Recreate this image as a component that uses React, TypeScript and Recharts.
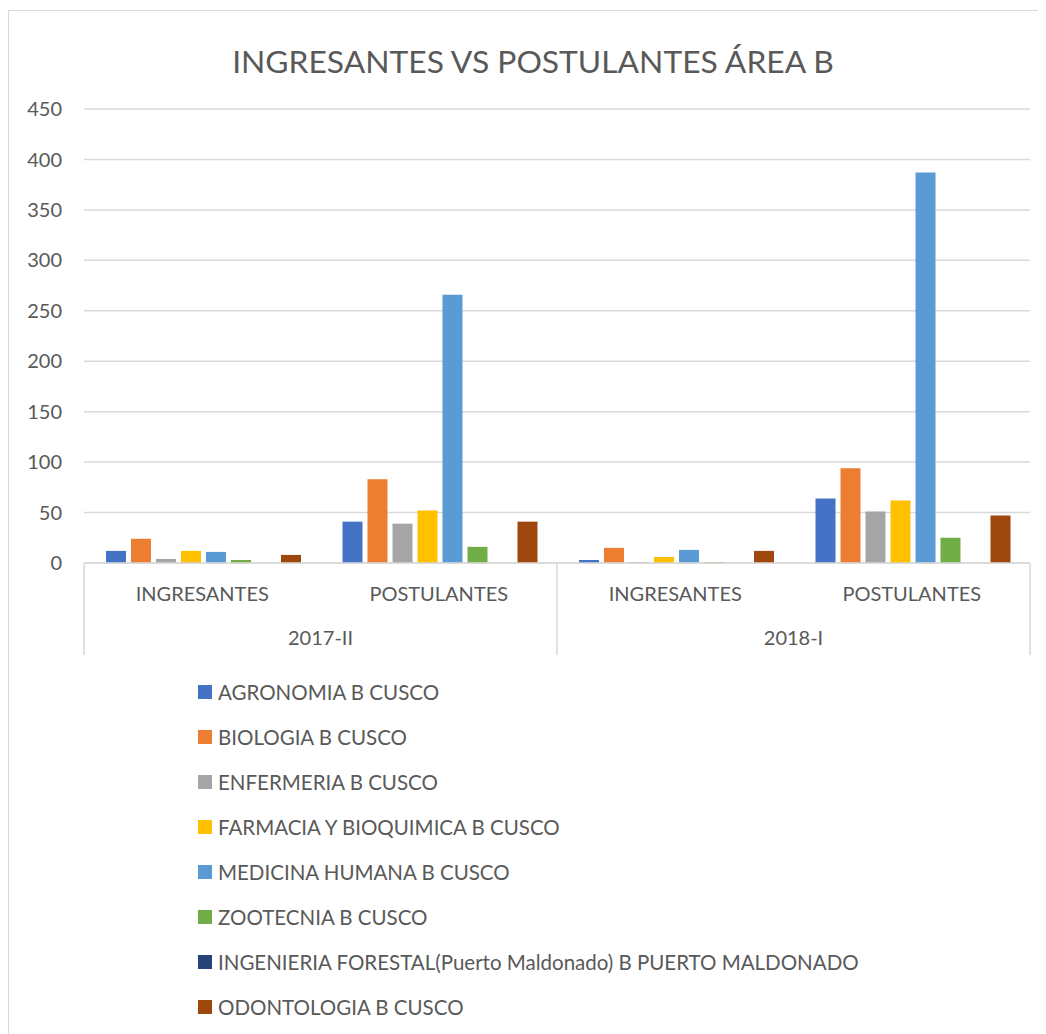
import React from "react";
import { BarChart, Bar, XAxis, YAxis, CartesianGrid, Legend } from "recharts";

const years = ["2017-II", "2017-II", "2018-I", "2018-I"];
const types = ["INGRESANTES", "POSTULANTES", "INGRESANTES", "POSTULANTES"];

const agronomia = [12, 41, 3, 64];
const biologia = [24, 83, 15, 94];
const enfermeria = [4, 39, 1, 51];
const farmacia = [12, 52, 6, 62];
const medicina = [11, 266, 13, 387];
const zootecnia = [3, 16, 1, 25];
const forestal = [0, 0, 0, 0];
const odontologia = [8, 41, 12, 47];

const yTicks = [0, 50, 100, 150, 200, 250, 300, 350, 400, 450];

const seriesNames = [
  "AGRONOMIA B CUSCO",
  "BIOLOGIA B CUSCO",
  "ENFERMERIA B CUSCO",
  "FARMACIA Y BIOQUIMICA B CUSCO",
  "MEDICINA HUMANA B CUSCO",
  "ZOOTECNIA B CUSCO",
  "INGENIERIA FORESTAL(Puerto Maldonado) B PUERTO MALDONADO",
  "ODONTOLOGIA B CUSCO",
];
const seriesValues = [agronomia, biologia, enfermeria, farmacia, medicina, zootecnia, forestal, odontologia];
const colors = ["#4472C4", "#ED7D31", "#A5A5A5", "#FFC000", "#5B9BD5", "#70AD47", "#264478", "#9E480E"];

const data = years.map((y, i) => {
  const row: Record<string, string | number> = { key: y + "|" + types[i], year: y, type: types[i] };
  seriesValues.forEach((vals, s) => {
    row["s" + s] = vals[i];
  });
  return row;
});

const FONT = "Lato, 'Open Sans', sans-serif";
const TEXT = "#595959";
const GRID = "#d9d9d9";

const CHART_W = 1030;
const CHART_H = 1020;
const MARGIN = { top: 98, right: 9, left: 0, bottom: 376 };
const Y_W = 75;
const PLOT_W = CHART_W - MARGIN.left - MARGIN.right - Y_W;
const AX1_H = 44;
const AX2_H = 48;

const TypeTick = (props: any) => {
  const { x, y, index } = props;
  return (
    <text x={x} y={y + 30} textAnchor="middle" dominantBaseline="central" fill={TEXT} fontSize={20} fontFamily={FONT}>
      {types[index]}
    </text>
  );
};

const YearTick = (props: any) => {
  const { x, y, payload, index } = props;
  const half = PLOT_W / 4;
  return (
    <g>
      <text x={x} y={y + 30} textAnchor="middle" dominantBaseline="central" fill={TEXT} fontSize={20} fontFamily={FONT}>
        {payload.value}
      </text>
      <line x1={x - half} x2={x - half} y1={y - AX1_H} y2={y + AX2_H} stroke={GRID} strokeWidth={1.5} />
      {index === 1 && (
        <line x1={x + half} x2={x + half} y1={y - AX1_H} y2={y + AX2_H} stroke={GRID} strokeWidth={1.5} />
      )}
    </g>
  );
};

const LegendContent = () => (
  <div style={{ fontFamily: FONT, color: TEXT, fontSize: 20.5 }}>
    {seriesNames.map((n, i) => (
      <div key={n} style={{ height: 45, display: "flex", alignItems: "center", whiteSpace: "nowrap" }}>
        <span style={{ display: "inline-block", width: 14, height: 14, background: colors[i], marginRight: 6 }} />
        <span>{n}</span>
      </div>
    ))}
  </div>
);

export default function App() {
  return (
    <div
      style={{
        position: "relative",
        marginTop: 2,
        width: CHART_W,
        height: CHART_H + 20,
        border: `1px solid ${GRID}`,
        background: "#fff",
      }}
    >
      <div
        style={{
          position: "absolute",
          left: 124,
          width: 800,
          top: 30,
          textAlign: "center",
          fontFamily: FONT,
          fontSize: 31.8,
          color: TEXT,
          lineHeight: "40px",
          whiteSpace: "nowrap",
        }}
      >
        INGRESANTES VS POSTULANTES ÁREA B
      </div>
      <BarChart width={CHART_W} height={CHART_H} data={data} margin={MARGIN} barCategoryGap={22} barGap={5}>
        <CartesianGrid vertical={false} stroke={GRID} strokeWidth={1.5} />
        <XAxis
          dataKey="key"
          height={AX1_H}
          tickSize={0}
          tickMargin={0}
          tick={<TypeTick />}
          axisLine={{ stroke: GRID, strokeWidth: 1.5 }}
          tickLine={false}
          interval={0}
        />
        <XAxis
          xAxisId="year"
          dataKey="year"
          allowDuplicatedCategory={false}
          height={AX2_H}
          tickSize={0}
          tickMargin={0}
          tick={<YearTick />}
          axisLine={false}
          tickLine={false}
          interval={0}
        />
        <YAxis
          width={Y_W}
          domain={[0, 450]}
          ticks={yTicks}
          interval={0}
          axisLine={false}
          tickLine={false}
          tickSize={0}
          tickMargin={22}
          tick={{ fill: TEXT, fontSize: 20, fontFamily: FONT }}
        />
        <Legend
          layout="vertical"
          align="center"
          verticalAlign="middle"
          content={<LegendContent />}
          wrapperStyle={{ top: 658, left: 189, width: 800, height: 360 }}
        />
        {seriesNames.map((n, i) => (
          <Bar key={n} dataKey={"s" + i} name={n} fill={colors[i]} isAnimationActive={false} />
        ))}
      </BarChart>
    </div>
  );
}
